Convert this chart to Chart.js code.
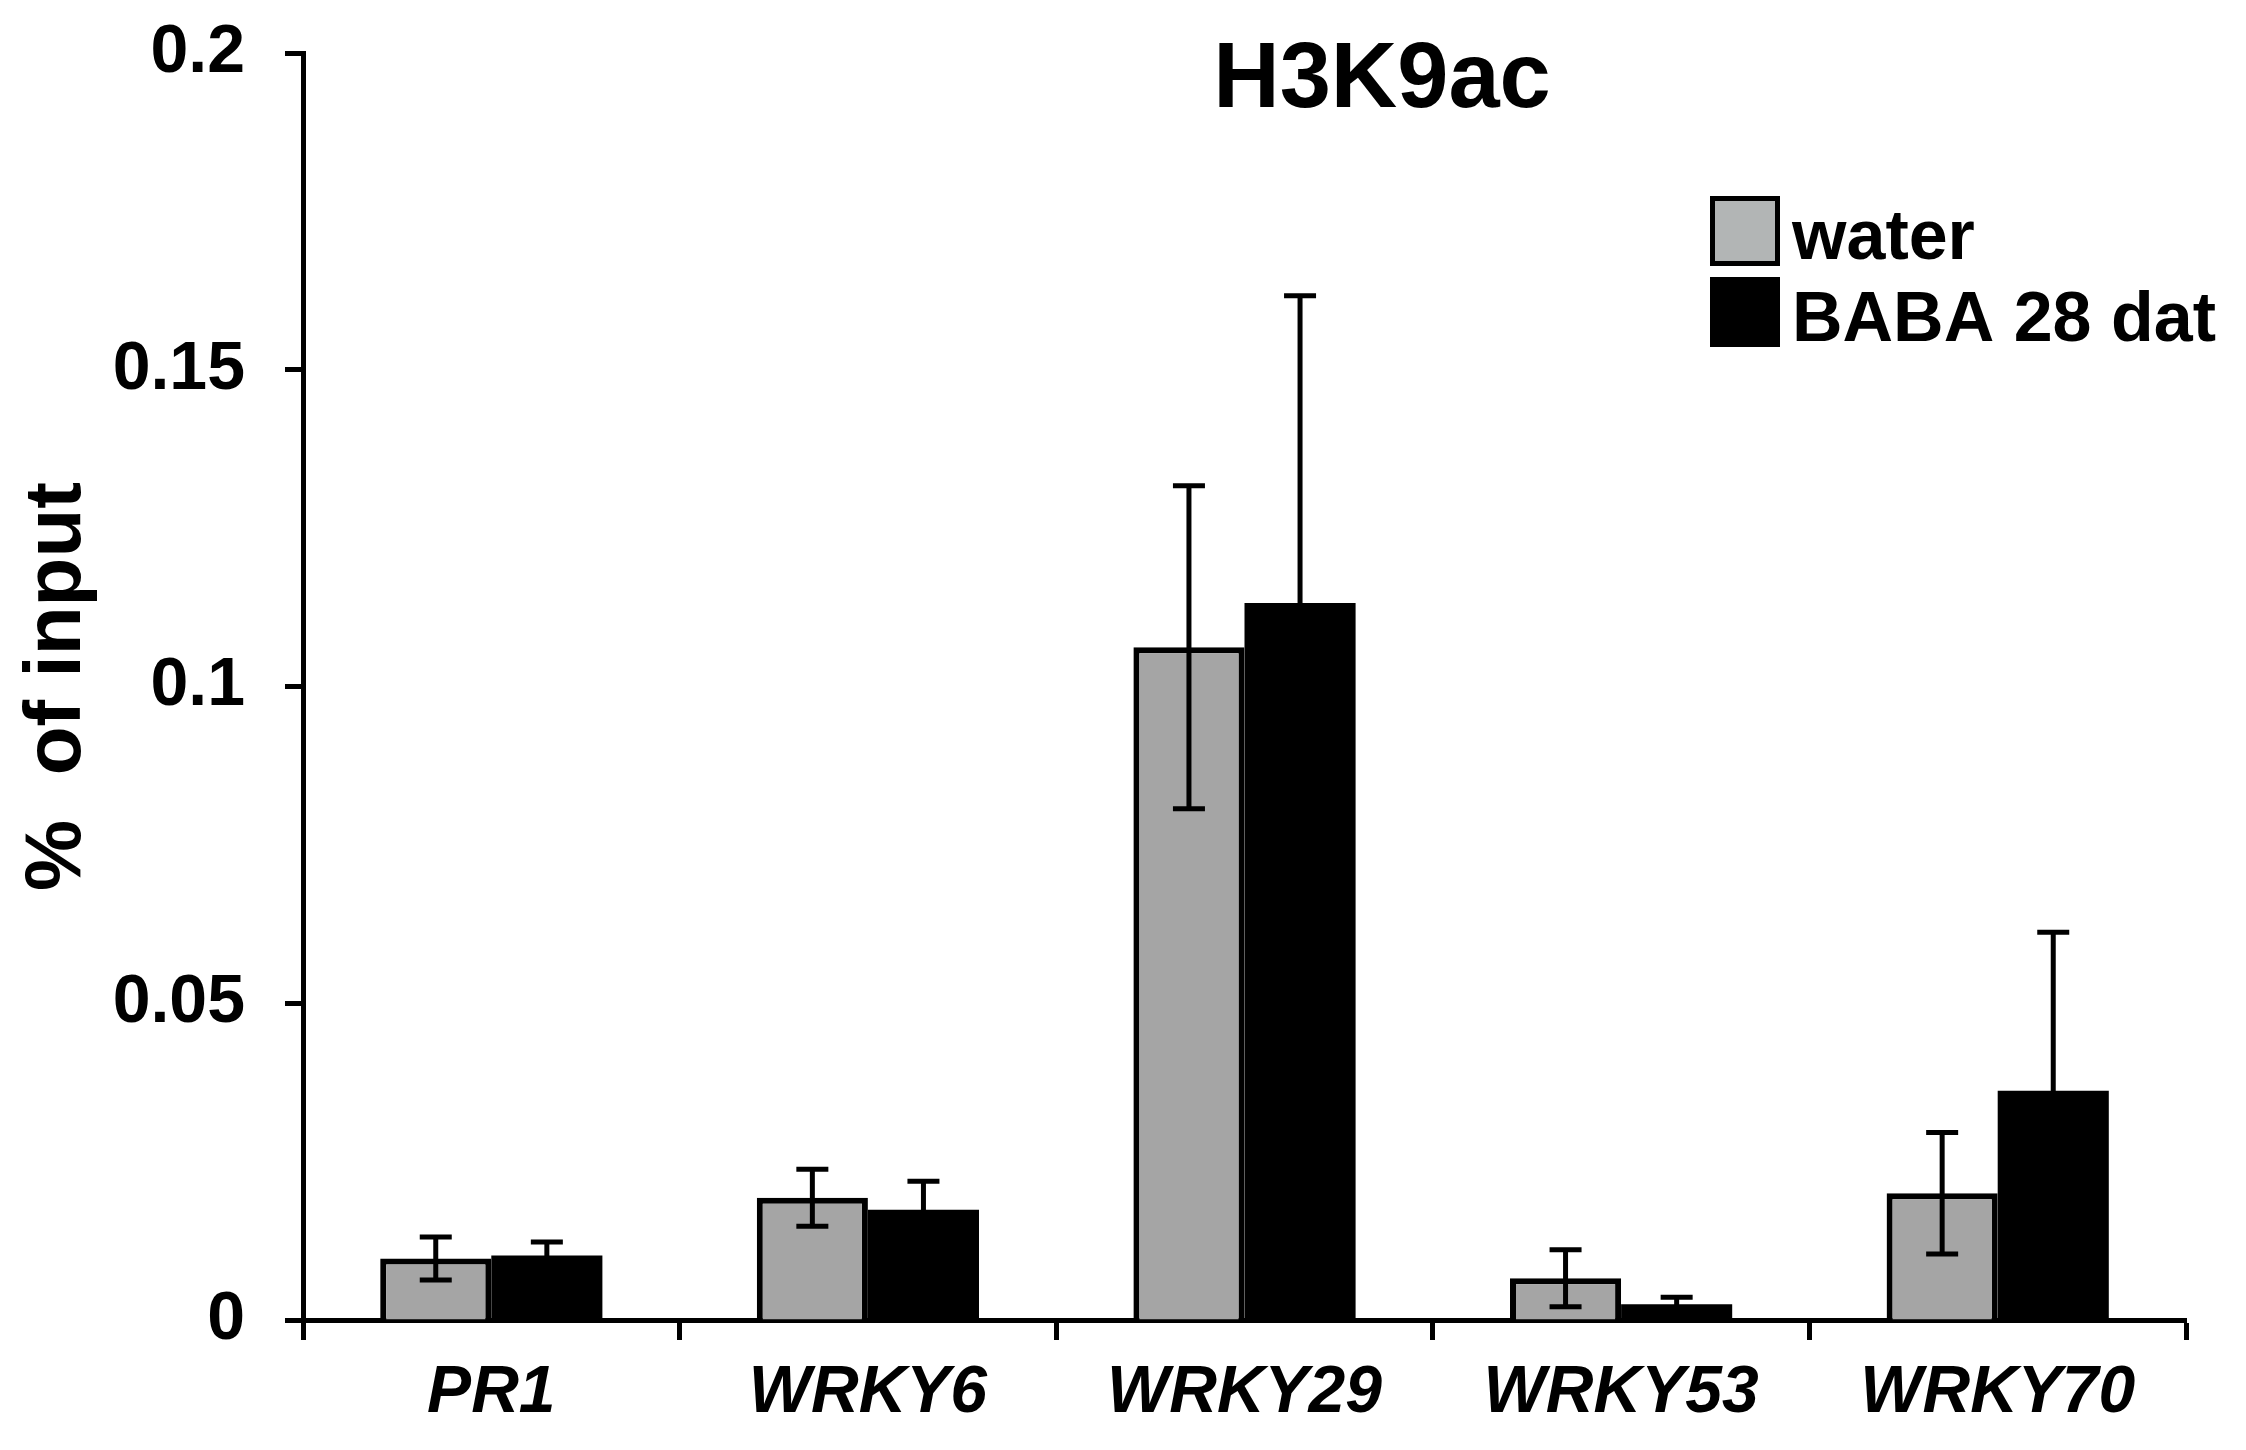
<!DOCTYPE html>
<html>
<head>
<meta charset="utf-8">
<script src="https://cdn.jsdelivr.net/npm/chart.js@4/dist/chart.umd.min.js"></script>
<style>
  html, body { margin: 0; padding: 0; background: #fff; }
  #wrap { width: 2246px; height: 1450px; }
</style>
</head>
<body>
<div id="wrap"><canvas id="myChart" width="2246" height="1450"></canvas></div>
<script>
// data
const genes = ["PR1", "WRKY6", "WRKY29", "WRKY53", "WRKY70"];
const waterVals = [0.0097, 0.0193, 0.1062, 0.0066, 0.0200];
const waterErr = [0.0034, 0.0045, 0.0255, 0.0045, 0.0096];
const babaVals = [0.0102, 0.0174, 0.1132, 0.0025, 0.0362];
const babaErr = [0.0021, 0.0045, 0.0485, 0.0011, 0.0250];
const yTickLabels = ["0", "0.05", "0.1", "0.15", "0.2"];
const seriesNames = ["water", "BABA 28 dat"];
const chartTitle = "H3K9ac";
const yTitle = "%  of input";

const FONT = "'Liberation Sans', Arial, sans-serif";

// error bars, drawn on top of the bars
const errorBars = {
    id: "errorBars",
    afterDatasetsDraw(chart) {
        const ctx = chart.ctx;
        const y = chart.scales.y;
        const errs = [waterErr, babaErr];
        ctx.save();
        ctx.strokeStyle = "#000";
        chart.data.datasets.forEach(function (ds, d) {
            const meta = chart.getDatasetMeta(d);
            meta.data.forEach(function (bar, i) {
                const v = ds.data[i];
                const e = errs[d][i];
                const top = y.getPixelForValue(v + e);
                const bot = y.getPixelForValue(v - e);
                ctx.lineWidth = 5;
                ctx.beginPath();
                ctx.moveTo(bar.x, top);
                ctx.lineTo(bar.x, bot);
                ctx.stroke();
                ctx.beginPath();
                ctx.moveTo(bar.x - 16, top);
                ctx.lineTo(bar.x + 16, top);
                ctx.moveTo(bar.x - 16, bot);
                ctx.lineTo(bar.x + 16, bot);
                ctx.stroke();
            });
        });
        ctx.restore();
    }
};

// title and legend placed like the original figure
const decorations = {
    id: "decorations",
    afterDraw(chart) {
        const ctx = chart.ctx;
        ctx.save();
        ctx.fillStyle = "#000";
        ctx.font = "bold 92px " + FONT;
        ctx.textAlign = "center";
        ctx.textBaseline = "alphabetic";
        ctx.fillText(chartTitle, 1382, 107);

        const boxes = [
            { y: 196, fill: "#b2b5b5", text: seriesNames[0], base: 259 },
            { y: 277, fill: "#000", text: seriesNames[1], base: 341 }
        ];
        ctx.font = "bold 70px " + FONT;
        ctx.textAlign = "left";
        boxes.forEach(function (b) {
            ctx.fillStyle = b.fill;
            ctx.fillRect(1710, b.y, 70, 70);
            ctx.lineWidth = 5;
            ctx.strokeStyle = "#000";
            ctx.strokeRect(1712.5, b.y + 2.5, 65, 65);
            ctx.fillStyle = "#000";
            ctx.fillText(b.text, 1792, b.base);
        });
        ctx.restore();
    }
};

const data = {
    labels: genes,
    datasets: [
        {
            label: seriesNames[0],
            data: waterVals,
            backgroundColor: "#a5a5a5",
            borderColor: "#000",
            borderWidth: 6,
            borderSkipped: "start"
        },
        {
            label: seriesNames[1],
            data: babaVals,
            backgroundColor: "#000",
            borderColor: "#000",
            borderWidth: 0
        }
    ]
};

const config = {
    type: "bar",
    data,
    options: {
        responsive: false,
        animation: false,
        devicePixelRatio: 1,
        layout: { padding: { left: 0, top: 53, right: 60, bottom: 0 } },
        plugins: {
            legend: { display: false },
            title: { display: false },
            tooltip: { enabled: false }
        },
        datasets: {
            bar: { categoryPercentage: 0.59, barPercentage: 1.0 }
        },
        scales: {
            x: {
                afterFit: function (scale) { scale.height = 130; },
                grid: {
                    display: true,
                    drawOnChartArea: false,
                    drawTicks: true,
                    tickLength: 20,
                    tickWidth: 5,
                    tickColor: "#000",
                    offset: true
                },
                border: { display: true, color: "#000", width: 5 },
                ticks: {
                    color: "#000",
                    padding: 14,
                    font: { family: FONT, size: 66, weight: "bold", style: "italic" }
                }
            },
            y: {
                min: 0,
                max: 0.2,
                afterFit: function (scale) {
                    scale.width = 303;
                    // label padding should not push the plot area down
                    scale.paddingTop = 0;
                    scale.paddingBottom = 0;
                },
                afterBuildTicks: function (scale) {
                    scale.ticks = yTickLabels.map(function (t) { return { value: parseFloat(t) }; });
                },
                grid: {
                    display: true,
                    drawOnChartArea: false,
                    drawTicks: true,
                    tickLength: 18,
                    tickWidth: 5,
                    tickColor: "#000"
                },
                border: { display: true, color: "#000", width: 5 },
                ticks: {
                    color: "#000",
                    padding: 40,
                    font: { family: FONT, size: 68, weight: "bold" },
                    callback: function (value, index) { return yTickLabels[index]; }
                },
                title: {
                    display: true,
                    text: yTitle,
                    color: "#000",
                    padding: { top: 10, bottom: 0 },
                    font: { family: FONT, size: 80, weight: "bold" }
                }
            }
        }
    },
    plugins: [errorBars, decorations]
};

var myChart = new Chart(document.getElementById("myChart"), config);
</script>
</body>
</html>
